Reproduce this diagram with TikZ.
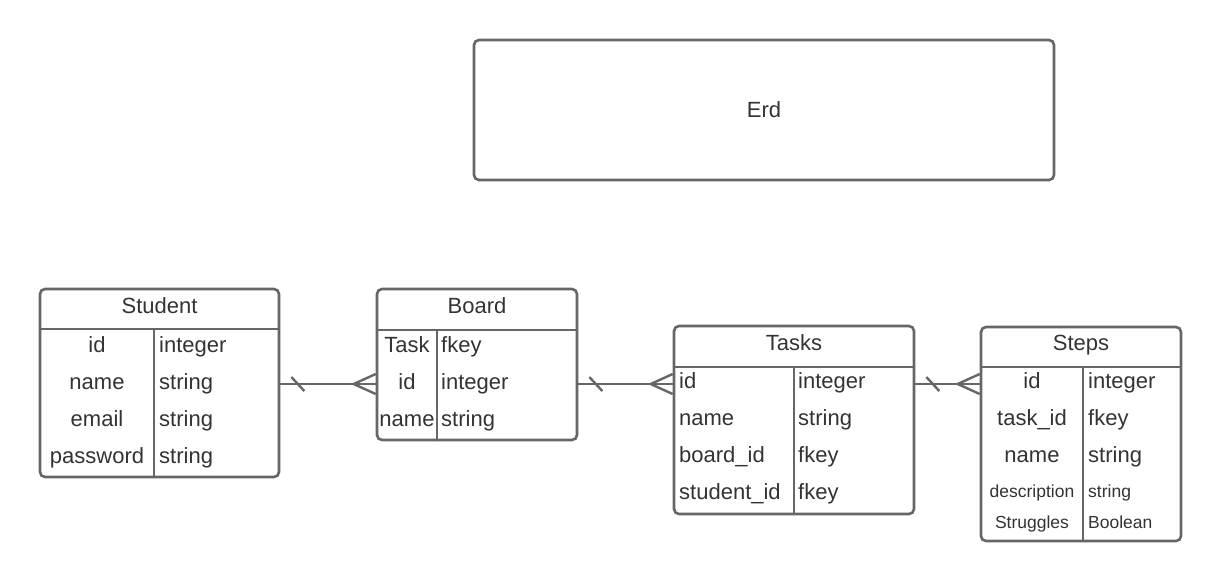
\documentclass[tikz,border=0pt]{standalone}
\usepackage{fontspec}
\setmainfont{Liberation Sans}
\usepackage{tikz}
\usetikzlibrary{positioning}
\definecolor{erdline}{HTML}{666666}
\definecolor{erdtext}{HTML}{333333}

\begin{document}
\begin{tikzpicture}[x=1pt, y=-1pt,
			tablebox/.style={draw=erdline, line width=2.6pt, rounded corners=5pt, inner sep=0pt},
			cell/.style={text=erdtext, font=\fontsize{22}{26}\selectfont, inner sep=0pt},
			smallcell/.style={cell, font=\fontsize{17.5}{21}\selectfont},
			rel/.style={draw=erdline, line width=2.4pt},
		]
		\useasboundingbox (0,0) rectangle (1221,581);
		
			%Title
			\node[tablebox, minimum width=580pt, minimum height=140pt]	(erd) at (764,110)	{};
			\node[cell, anchor=base]	(erdname) at (764,117)	{Erd};
		
			%Tables
			\node[tablebox, minimum width=239pt, minimum height=188pt]	(student) at (159.5,383)	{};
			\node[tablebox, minimum width=200pt, minimum height=151pt]	(board) at (477,364.5)	{};
			\node[tablebox, minimum width=240pt, minimum height=188pt]	(tasks) at (794,420)	{};
			\node[tablebox, minimum width=200pt, minimum height=214pt]	(steps) at (1081,434)	{};
		
			%Headers
			\node[cell, anchor=base]	(student-title) at (159.5,313)	{Student};
			\node[cell, anchor=base]	(board-title) at (477,313)	{Board};
			\node[cell, anchor=base]	(tasks-title) at (794,350)	{Tasks};
			\node[cell, anchor=base]	(steps-title) at (1081,350)	{Steps};
			\draw[rel]	(student.west |- 0,329) -- (student.east |- 0,329);
			\draw[rel]	(board.west |- 0,330) -- (board.east |- 0,330);
			\draw[rel]	(tasks.west |- 0,367) -- (tasks.east |- 0,367);
			\draw[rel]	(steps.west |- 0,367) -- (steps.east |- 0,367);
		
			%Columns
			\draw[rel]	(student.south -| 154,0) -- (154,329);
			\draw[rel]	(board.south -| 437,0) -- (437,330);
			\draw[rel]	(tasks.south -| 794,0) -- (794,367);
			\draw[rel]	(steps.south -| 1083,0) -- (1083,367);
		
			%Rows
			\foreach \key/\type [count=\i] in {id/integer, name/string, email/string, password/string}{
				\node[cell, anchor=base]		(student-key-\i) at (97,{315+37*\i})	{\key};
				\node[cell, anchor=base west]	(student-type-\i) at (159,{315+37*\i})	{\type};
			}
			\foreach \key/\type [count=\i] in {Task/fkey, id/integer, name/string}{
				\node[cell, anchor=base]		(board-key-\i) at (407,{315+37*\i})	{\key};
				\node[cell, anchor=base west]	(board-type-\i) at (441,{315+37*\i})	{\type};
			}
			\foreach \key/\type [count=\i] in {id/integer, name/string, board\_id/fkey, student\_id/fkey}{
				\node[cell, anchor=base west]	(tasks-key-\i) at (679,{351+37*\i})	{\key};
				\node[cell, anchor=base west]	(tasks-type-\i) at (798,{351+37*\i})	{\type};
			}
			\foreach \key/\type [count=\i] in {id/integer, task\_id/fkey, name/string}{
				\node[cell, anchor=base]		(steps-key-\i) at (1032,{351+37*\i})	{\key};
				\node[cell, anchor=base west]	(steps-type-\i) at (1088,{351+37*\i})	{\type};
			}
			\node[smallcell, anchor=base]		(steps-key-4) at (1032,497)	{description};
			\node[smallcell, anchor=base west]	(steps-type-4) at (1088,497)	{string};
			\node[smallcell, anchor=base]		(steps-key-5) at (1032,528)	{Struggles};
			\node[smallcell, anchor=base west]	(steps-type-5) at (1088,528)	{Boolean};
		
			%Lines
			\foreach \one/\many in {student/board, board/tasks, tasks/steps}{
				\coordinate (\one-out) at (\one.east |- 0,384);
				\coordinate (\many-in) at (\many.west |- 0,384);
				\draw[rel]	(\one-out) -- (\many-in);
				\draw[rel]	([xshift=11pt, yshift=7pt]\one-out) -- ([xshift=24pt, yshift=-7pt]\one-out);
				\draw[rel]	([yshift=10pt]\many-in) -- ([xshift=-22pt]\many-in) -- ([yshift=-10pt]\many-in);
			}
		
		\end{tikzpicture}
\end{document}
